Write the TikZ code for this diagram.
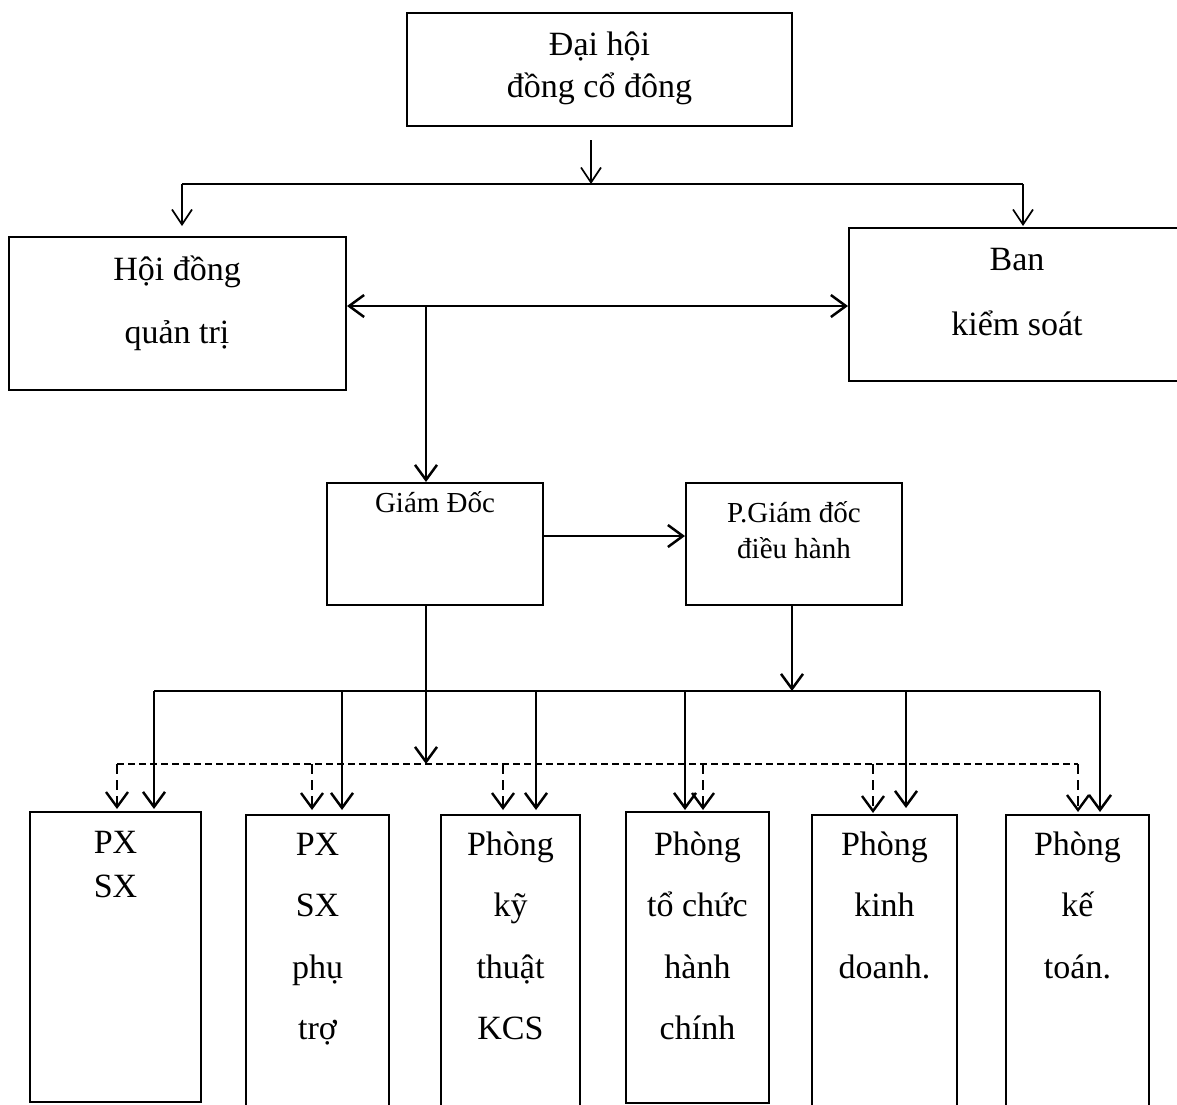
\documentclass[tikz,border=0pt]{standalone}
\usepackage{fontspec}
\setmainfont{Liberation Serif}
\usetikzlibrary{arrows.meta}
\begin{document}
\begin{tikzpicture}[x=1pt,y=-1pt,
  orgbox/.style 2 args={draw, line width=2pt, minimum width=#1, minimum height=#2, inner sep=0pt},
  lbl/.style={font=\fontsize{34}{61.5}\selectfont, align=center, anchor=base, inner sep=0pt},
  tip/.style={-{Straight Barb[length=15pt,width=22pt]}},
  arr/.style={line width=2.5pt, tip},
  thinarr/.style={line width=1.7pt, -{Straight Barb[length=15pt,width=20pt]}},
  darr/.style={line width=2.4pt, tip, dash pattern=on 10pt off 6pt},
  bus/.style={line width=1.7pt},
  dbus/.style={line width=1.5pt, dash pattern=on 7pt off 4pt}]
\useasboundingbox (0,0) rectangle (1177,1104);

% boxes
\node[orgbox={385pt}{113pt}] (dh) at (599.5,69.5) {};
\node[orgbox={337pt}{153pt}] (hdqt) at (177.5,313.5) {};
\node[orgbox={336pt}{153pt}] (bks) at (1017,304.5) {};
\node[orgbox={216pt}{122pt}] (gd) at (435,544) {};
\node[orgbox={216pt}{122pt}] (pgd) at (794,544) {};
\node[orgbox={171pt}{290pt}] (b1) at (115.5,957) {};
\node[orgbox={143pt}{300pt}] (b2) at (317.5,965) {};
\node[orgbox={139pt}{300pt}] (b3) at (510.5,965) {};
\node[orgbox={143pt}{291pt}] (b4) at (697.5,957.5) {};
\node[orgbox={145pt}{300pt}] (b5) at (884.5,965) {};
\node[orgbox={143pt}{300pt}] (b6) at (1077.5,965) {};

% labels (placed by the baseline of their last line)
\node[lbl, font=\fontsize{34}{42}\selectfont] (tdh) at (599.5,97) {Đại hội\\đồng cổ đông};
\node[lbl, font=\fontsize{34}{63}\selectfont] (thdqt) at (177,343) {Hội đồng\\quản trị};
\node[lbl, font=\fontsize{34}{65}\selectfont] (tbks) at (1017,335) {Ban\\kiểm soát};
\node[lbl, font=\fontsize{29}{36}\selectfont] (tgd) at (435,512) {Giám Đốc};
\node[lbl, font=\fontsize{29}{36}\selectfont] (tpgd) at (794,558) {P.Giám đốc\\điều hành};
\node[lbl, font=\fontsize{34}{44}\selectfont] (tb1) at (115.5,897) {PX\\SX};
\node[lbl] (tb2) at (317.5,1039.5) {PX\\SX\\phụ\\trợ};
\node[lbl] (tb3) at (510.5,1039.5) {Phòng\\kỹ\\thuật\\KCS};
\node[lbl] (tb4) at (697.5,1039.5) {Phòng\\tổ chức\\hành\\chính};
\node[lbl] (tb5) at (884.5,978) {Phòng\\kinh\\doanh.};
\node[lbl] (tb6) at (1077.5,978) {Phòng\\kế\\toán.};

% junction points
\coordinate (a0) at (591,140);
\coordinate (a1) at (591,184);
\coordinate (jL) at (182,184);
\coordinate (jR) at (1023,184);
\coordinate (mid) at (426,306);
\coordinate (sb) at (154,691);
\coordinate (se) at (1100,691);
\coordinate (db) at (117,764);
\coordinate (de) at (1078,764);

% from the general meeting
\draw[thinarr] (a0) -- (a1);
\draw[bus] (jL) -- (jR);
\draw[thinarr, shorten >=10pt] (jL) -- (jL |- hdqt.north);
\draw[thinarr, shorten >=1pt] (jR) -- (jR |- bks.north);

% board, supervisors and director
\draw[line width=2.5pt, {Straight Barb[length=15pt,width=22pt]}-{Straight Barb[length=15pt,width=22pt]}]
  (hdqt.east |- mid) -- (bks.west |- mid);
\draw[arr] (mid) -- (mid |- gd.north);
\draw[arr] ([yshift=8pt]gd.east) -- ([yshift=8pt]pgd.west);
\draw[arr] ([xshift=-2pt]pgd.south) -- ([xshift=-2pt]pgd.south |- sb);

% solid bus from the deputy director
\draw[bus] (sb) -- (se);
\draw[arr, shorten >=2pt] (sb) -- (sb |- b1.north);
\draw[arr, shorten >=5pt] (342,691) -- (342,815);
\draw[arr, shorten >=5pt] (536,691) -- (536,815);
\draw[arr, shorten >=2pt] (685,691) -- (685,812);
\draw[arr, shorten >=7pt] (906,691) -- (906,815);
\draw[arr, shorten >=2pt] (se) -- (se |- b6.north);

% dashed bus from the director
\draw[arr] (mid |- gd.south) -- (mid |- db);
\draw[dbus] (db) -- (de);
\draw[darr, shorten >=2pt] (db) -- (db |- b1.north);
\draw[darr, shorten >=5pt] (312,764) -- (312,815);
\draw[darr, shorten >=5pt] (503,764) -- (503,815);
\draw[darr, shorten >=2pt] (703,764) -- (703,812);
\draw[darr, shorten >=2pt] (873,764) -- (873,815);
\draw[darr, shorten >=2pt] (de) -- (de |- b6.north);
\end{tikzpicture}
\end{document}
